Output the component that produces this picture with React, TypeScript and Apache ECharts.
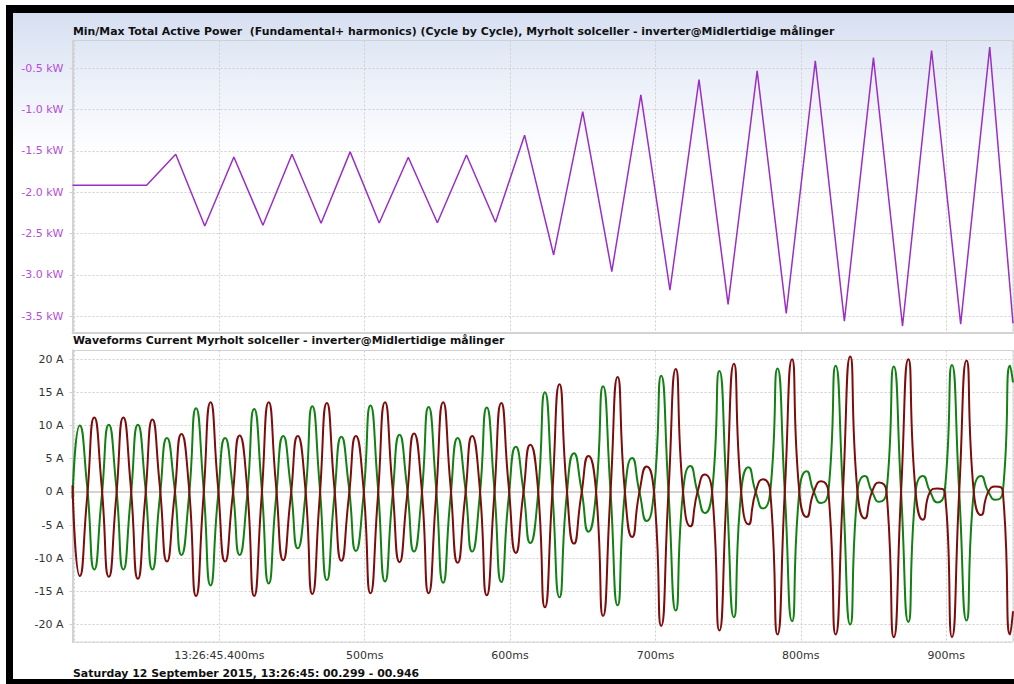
import React, { useEffect, useRef } from 'react';
import * as echarts from 'echarts';

const TITLE_POWER = 'Min/Max Total Active Power  (Fundamental+ harmonics) (Cycle by Cycle), Myrholt solceller - inverter@Midlertidige målinger';
const TITLE_CURRENT = 'Waveforms Current Myrholt solceller - inverter@Midlertidige målinger';
const FOOTER = 'Saturday 12 September 2015, 13:26:45: 00.299 - 00.946';

// time axis in ms after 13:26:45
const X_MIN = 299;
const X_MAX = 946;

// Min/Max total active power (kW), cycle by cycle
const POWER_T = [299, 350, 370, 390, 410, 430, 450, 470, 490, 510, 530, 550, 570, 590, 610, 630, 650, 670, 690, 710, 730, 750, 770, 790, 810, 830, 850, 870, 890, 910, 930, 946];
const POWER_KW = [-1.915, -1.915, -1.540, -2.408, -1.573, -2.399, -1.540, -2.375, -1.512, -2.371, -1.577, -2.368, -1.549, -2.363, -1.310, -2.758, -1.025, -2.960, -0.823, -3.182, -0.638, -3.355, -0.533, -3.464, -0.412, -3.557, -0.372, -3.617, -0.287, -3.593, -0.246, -3.585];

// Waveform samples every 5 ms from 299 ms, last sample at 946 ms
const WAVE_T = Array.from({ length: 130 }, (_, j) => 299 + 5 * j).concat([946]);

const GREEN_A = [
  -1, 10.0, 1, -11.7, -1, 10.1, 1, -11.7, -1, 10.1, 1, -11.7,
  -1, 8.1, 1, -9.5, -1, 12.6, 1, -14.1, -1, 8.1, 1, -9.5,
  -1, 12.5, 1, -13.8, -1, 8.4, 1, -8.5, -1, 12.9, 1, -13.3,
  -1, 8.3, 1, -8.9, -1, 13.0, 1, -13.5, -1, 8.6, 1, -9.0,
  -1, 12.8, 1, -13.7, -1, 8.1, 1, -9.0, -1, 12.7, 1, -13.6,
  -1, 6.8, 0.5, -7.7, -1, 15.0, 0.5, -15.9, -0.5, 5.8, 0.5, -6.0,
  -0.5, 15.9, 0.5, -17.1, 0, 5.1, 0, -4.4, 0, 17.5, 0, -17.9,
  0, 3.9, 0, -3.2, 0, 18.2, 0, -18.9, 0, 3.7, 0, -2.5,
  0, 18.6, 0, -19.5, 0, 3.1, 0, -1.7, 0, 19.0, 0, -20.0,
  0, 2.4, 0, -1.5, 0, 18.9, 0, -19.6, 0, 2.4, 0, -1.6,
  0, 19.1, 0, -19.4, 0, 2.4, 0, -1.2, 0, 19.0, 16.5
];

const RED_A = [
  1, -12.7, -1, 11.2, 1, -12.8, -1, 11.2, 1, -13.1, -1, 10.9,
  1, -10.5, -1, 8.7, 1, -15.7, -1, 13.5, 1, -10.5, -1, 8.5,
  1, -15.7, -1, 13.5, 1, -10.3, -1, 8.4, 1, -15.4, -1, 13.4,
  1, -10.4, -1, 8.4, 1, -15.3, -1, 13.5, 1, -10.6, -1, 8.8,
  1, -15.3, -1, 13.5, 1, -10.7, -1, 8.4, 1, -15.6, -1, 13.4,
  1, -9.2, -0.5, 7.1, 1, -17.4, -0.5, 16.2, 0.5, -7.8, -0.5, 5.4,
  0.5, -18.7, -0.5, 17.3, 0, -6.8, 0, 3.8, 0, -20.2, 0, 18.5,
  0, -5.2, 0, 2.6, 0, -20.9, 0, 19.3, 0, -4.9, 0, 1.9,
  0, -21.5, 0, 20.0, 0, -3.8, 0, 1.6, 0, -21.5, 0, 20.4,
  0, -4.0, 0, 1.4, 0, -21.9, 0, 20.0, 0, -4.2, 0, 0.5,
  0, -21.9, 0, 19.8, 0, -3.5, 0, 0.8, 0, -21.5, -18.0
];

const FONT = '"DejaVu Sans", Verdana, sans-serif';
const GRID_LINE = { type: [2, 2] as any, color: '#cfcfcf', width: 1 };

export default function App() {
  const ref = useRef<HTMLDivElement>(null);

  useEffect(() => {
    if (!ref.current) return;
    const chart = echarts.init(ref.current, undefined, { renderer: 'svg' });
    const option: any = {
      animation: false,
      textStyle: { fontFamily: FONT },
      grid: [
        { left: 72.5, top: 40.5, width: 940.5, height: 292, show: true, borderColor: '#d3d3d3', borderWidth: 1, backgroundColor: 'transparent' },
        { left: 72.5, top: 350.5, width: 940.5, height: 291.5, show: true, borderColor: '#d3d3d3', borderWidth: 1, backgroundColor: 'transparent' },
      ],
      xAxis: [
        {
          type: 'value', gridIndex: 0, min: X_MIN, max: X_MAX, splitNumber: 6,
          axisLabel: { show: false }, axisTick: { show: false },
          axisLine: { show: true, lineStyle: { color: '#d3d3d3', width: 2 } },
          splitLine: { show: true, lineStyle: GRID_LINE },
        },
        {
          type: 'value', gridIndex: 1, min: X_MIN, max: X_MAX, splitNumber: 6,
          axisLabel: {
            show: true, color: '#333', fontSize: 11, fontFamily: FONT, margin: 8,
            showMinLabel: false, showMaxLabel: false,
            formatter: (v: number) => (v === 400 ? '13:26:45.400ms' : v > 400 && v % 100 === 0 ? v + 'ms' : ''),
          },
          axisTick: { show: true, length: 5, lineStyle: { color: '#cfcfcf' } },
          axisLine: { show: true, lineStyle: { color: '#d3d3d3', width: 2 } },
          splitLine: { show: true, lineStyle: GRID_LINE },
        },
      ],
      yAxis: [
        {
          type: 'value', gridIndex: 0, min: -3.695, max: -0.166, splitNumber: 7,
          axisLabel: {
            color: '#b44ed8', fontSize: 11, fontFamily: FONT, margin: 9,
            showMinLabel: false, showMaxLabel: false,
            formatter: (v: number) => (Math.abs(v - Math.round(v * 2) / 2) < 1e-6 ? v.toFixed(1) + ' kW' : ''),
          },
          axisTick: { show: true, length: 3, lineStyle: { color: '#cfcfcf' } },
          axisLine: { show: true, lineStyle: { color: '#d3d3d3', width: 2 } },
          splitLine: { show: true, lineStyle: GRID_LINE },
        },
        {
          type: 'value', gridIndex: 1, min: -22.63, max: 21.3, splitNumber: 9,
          axisLabel: {
            color: '#333', fontSize: 11, fontFamily: FONT, margin: 9,
            showMinLabel: false, showMaxLabel: false,
            formatter: (v: number) => (v % 5 === 0 ? v + ' A' : ''),
          },
          axisTick: { show: true, length: 3, lineStyle: { color: '#cfcfcf' } },
          axisLine: { show: true, lineStyle: { color: '#d3d3d3', width: 2 } },
          splitLine: { show: true, lineStyle: GRID_LINE },
        },
      ],
      graphic: [
        { type: 'text', left: 73, top: 26, style: { text: TITLE_POWER, font: `bold 10.9px ${FONT}`, fill: '#111' } },
        { type: 'text', left: 73, top: 335, style: { text: TITLE_CURRENT, font: `bold 10.9px ${FONT}`, fill: '#111' } },
        { type: 'text', left: 73, top: 668, style: { text: FOOTER, font: `bold 10.9px ${FONT}`, fill: '#111' } },
      ],
      series: [
        {
          type: 'line', name: 'Total Active Power', xAxisIndex: 0, yAxisIndex: 0,
          data: POWER_T.map((t, i) => [t, POWER_KW[i]]),
          symbol: 'none', lineStyle: { color: '#9b2fc4', width: 1.5 },
        },
        {
          type: 'line', name: 'Current L1', xAxisIndex: 1, yAxisIndex: 1,
          data: WAVE_T.map((t, i) => [t, GREEN_A[i]]),
          symbol: 'none', smooth: 0.6, lineStyle: { color: '#138013', width: 2 },
        },
        {
          type: 'line', name: 'Current L2', xAxisIndex: 1, yAxisIndex: 1,
          data: WAVE_T.map((t, i) => [t, RED_A[i]]),
          symbol: 'none', smooth: 0.6, lineStyle: { color: '#7d0c0c', width: 2 },
        },
      ],
    };
    chart.setOption(option);
    return () => chart.dispose();
  }, []);

  return (
    <div style={{ position: 'fixed', left: 0, top: 0, width: 1014, height: 684, background: '#fff', overflow: 'hidden' }}>
      <div style={{ position: 'absolute', left: 13, top: 13, width: 1001, height: 666, background: 'linear-gradient(to bottom, #d6dff1 0px, #e9eef8 60px, #ffffff 145px, #ffffff 100%)' }} />
      <div style={{ position: 'absolute', left: 6, top: 5, width: 1008, height: 8, background: '#000' }} />
      <div style={{ position: 'absolute', left: 6, top: 5, width: 7, height: 679, background: '#000' }} />
      <div style={{ position: 'absolute', left: 6, top: 679, width: 1008, height: 5, background: '#000' }} />
      <div ref={ref} style={{ position: 'absolute', left: 0, top: 0, width: 1014, height: 684 }} />
    </div>
  );
}
